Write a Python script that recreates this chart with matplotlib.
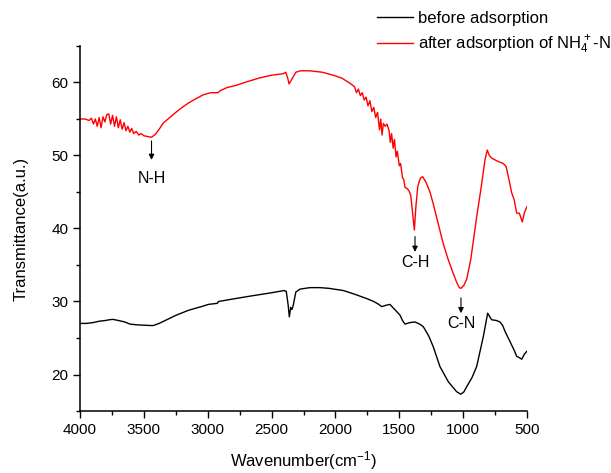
import numpy as np
import matplotlib
matplotlib.use("Agg")
import matplotlib.pyplot as plt
from matplotlib.ticker import MultipleLocator

plt.rcParams['font.family'] = ['Liberation Sans', 'DejaVu Sans']
plt.rcParams['mathtext.fontset'] = 'custom'
plt.rcParams['mathtext.rm'] = 'Liberation Sans'
plt.rcParams['mathtext.default'] = 'regular'

# before adsorption (black)
wn_before = [4000, 3950, 3900, 3850, 3800, 3770, 3742, 3700, 3650, 3608, 3550, 3500, 3428,
             3380, 3321, 3250, 3150, 3050, 2995, 2925, 2915, 2850, 2750, 2645, 2500, 2403,
             2385, 2370, 2361, 2350, 2340, 2330, 2310, 2277, 2199, 2121, 2050, 1938, 1850,
             1755, 1700, 1660, 1638, 1600, 1573, 1530, 1495, 1475, 1455, 1420, 1377, 1340,
             1312, 1270, 1234, 1182, 1116, 1051, 1019, 995, 973, 930, 894, 842, 808, 777,
             740, 712, 690, 672, 633, 600, 581, 560, 541, 520, 500]
t_before = [27.0, 27.0, 27.1, 27.3, 27.4, 27.5, 27.55, 27.4, 27.2, 26.9, 26.8, 26.75, 26.7,
            27.0, 27.5, 28.1, 28.8, 29.3, 29.6, 29.75, 30.0, 30.2, 30.5, 30.8, 31.2, 31.5,
            31.4, 29.5, 27.9, 29.2, 28.9, 29.5, 31.3, 31.7, 31.9, 31.9, 31.8, 31.5, 31.0,
            30.4, 30.0, 29.6, 29.3, 29.5, 29.6, 28.8, 28.15, 27.4, 26.9, 27.1, 27.2, 26.9,
            26.55, 25.3, 23.8, 21.1, 19.0, 17.65, 17.3, 17.6, 18.3, 19.6, 21.1, 25.2, 28.4, 27.5,
            27.4, 27.2, 26.7, 25.9, 24.5, 23.3, 22.5, 22.3, 22.1, 22.8, 23.2]

# after adsorption of NH4+-N (red)
wn_after = [4000, 3960, 3930, 3910, 3895, 3880, 3865, 3850, 3835, 3820, 3805, 3790, 3775,
            3760, 3745, 3730, 3715, 3700, 3685, 3670, 3655, 3640, 3625, 3610, 3595, 3580,
            3560, 3540, 3520, 3500, 3470, 3440, 3410, 3380, 3350, 3311, 3250, 3200, 3150,
            3100, 3037, 2980, 2940, 2920, 2900, 2850, 2780, 2693, 2600, 2500, 2410, 2390,
            2375, 2363, 2340, 2310, 2277, 2200, 2100, 2019, 1950, 1886, 1850, 1835, 1820,
            1805, 1790, 1775, 1760, 1745, 1730, 1715, 1700, 1685, 1670, 1655, 1645, 1635,
            1625, 1610, 1596, 1580, 1570, 1560, 1548, 1538, 1525, 1515, 1500, 1490, 1475,
            1465, 1455, 1440, 1425, 1410, 1395, 1382, 1370, 1355, 1335, 1317, 1290, 1260,
            1236, 1200, 1157, 1120, 1079, 1050, 1030, 1017, 995, 973, 940, 894, 860, 829,
            811, 795, 777, 740, 700, 686, 664, 640, 620, 600, 581, 560, 545, 537, 520, 500]
t_after = [55.0, 55.0, 54.8, 55.1, 54.3, 55.0, 54.0, 55.2, 53.8, 55.3, 54.6, 55.6, 55.7,
           54.3, 55.5, 54.0, 55.3, 53.8, 54.9, 53.6, 54.5, 53.4, 54.0, 53.2, 53.7, 53.0,
           53.3, 52.8, 53.0, 52.7, 52.6, 52.5, 52.9, 53.6, 54.4, 55.0, 55.9, 56.6, 57.2,
           57.7, 58.3, 58.6, 58.6, 58.6, 58.9, 59.3, 59.6, 60.1, 60.6, 61.0, 61.2, 61.4,
           60.7, 59.8, 60.5, 61.4, 61.6, 61.6, 61.4, 61.0, 60.6, 59.9, 59.4, 58.6, 59.1,
           58.2, 58.6, 57.6, 58.0, 56.8, 57.5, 56.0, 56.6, 55.2, 55.9, 53.5, 55.0, 52.8,
           54.4, 54.0, 54.3, 53.4, 51.8, 53.0, 51.0, 52.2, 49.8, 50.6, 48.6, 48.9, 47.0,
           46.7, 45.6, 45.5, 45.2, 44.5, 42.0, 39.8, 43.0, 45.8, 46.9, 47.1, 46.3, 45.0,
           43.5, 41.0, 38.0, 35.9, 33.9, 32.6, 31.9, 31.8, 32.2, 33.0, 35.8, 41.6, 45.5, 49.4,
           50.75, 50.0, 49.65, 49.3, 49.0, 48.9, 48.5, 46.6, 44.9, 43.9, 42.1, 42.1, 41.3, 40.9, 42.2, 43.0]

# band labels: (label, wavenumber, arrow start, arrow end, text y)
bands = [("N-H", 3440, 52.0, 49.4, 46.8),
         ("C-H", 1377, 38.9, 36.8, 35.4),
         ("C-N", 1017, 30.5, 28.4, 27.0)]

fig = plt.figure(figsize=(6.11, 4.73), dpi=100)
ax = fig.add_axes([80 / 611, 62 / 473, 447 / 611, 365 / 473])

ax.plot(wn_before, t_before, color='black', linewidth=1.0, label='before adsorption')
ax.plot(wn_after, t_after, color='red', linewidth=1.0, label=r'after adsorption of NH$_4^+$-N')

for name, x, y0, y1, ty in bands:
    ax.annotate('', xy=(x, y1), xytext=(x, y0),
                arrowprops=dict(arrowstyle='-|>', color='black', lw=0.8,
                                mutation_scale=8, shrinkA=0, shrinkB=0))
    ax.text(x, ty, name, ha='center', va='center', fontsize=11.5)

ax.set_xlim(4000, 500)
ax.set_ylim(15, 65)
ax.xaxis.set_major_locator(MultipleLocator(500))
ax.xaxis.set_minor_locator(MultipleLocator(250))
ax.yaxis.set_major_locator(MultipleLocator(10))
ax.yaxis.set_minor_locator(MultipleLocator(5))
ax.set_yticks([20, 30, 40, 50, 60])
ax.tick_params(which='major', direction='out', length=5, width=1, labelsize=11)
ax.tick_params(which='minor', direction='out', length=3, width=1)
for s in ['top', 'right']:
    ax.spines[s].set_visible(False)
for s in ['left', 'bottom']:
    ax.spines[s].set_linewidth(1.1)

ax.set_xlabel(r'Wavenumber(cm$^{-1}$)', fontsize=12, labelpad=9)
ax.set_ylabel('Transmittance(a.u.)', fontsize=12, labelpad=16)

ax.legend(loc='upper left', bbox_to_anchor=(0.649, 1.115), frameon=False, fontsize=12,
          handlelength=2.2, handletextpad=0.3, labelspacing=0.45, borderaxespad=0)

fig.savefig('out.png', dpi=100)
